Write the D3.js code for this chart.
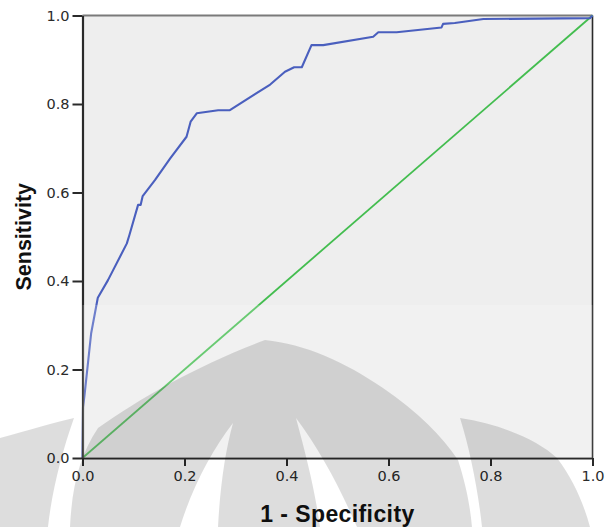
<!DOCTYPE html>
<html>
<head>
<meta charset="utf-8">
<script src="https://cdn.jsdelivr.net/npm/d3@7/dist/d3.min.js"></script>
<style>
  body { margin: 0; background: #ffffff; }
  svg { display: block; }
  .tick text { font-family: "DejaVu Sans", Verdana, sans-serif; font-size: 14.5px; fill: #2b2b2b; }
</style>
</head>
<body>
<svg id="chart" width="605" height="527"></svg>
<script>
// ROC curve: false positive rate (1 - specificity) vs. true positive rate (sensitivity)
const fpr = [0.000, 0.001, 0.004, 0.017, 0.030, 0.050, 0.087, 0.088, 0.092, 0.109, 0.114, 0.118,
             0.142, 0.172, 0.204, 0.212, 0.224, 0.266, 0.289, 0.368, 0.397, 0.415, 0.430, 0.449,
             0.472, 0.570, 0.580, 0.616, 0.704, 0.707, 0.730, 0.786, 0.995, 1.000];
const tpr = [0.000, 0.115, 0.142, 0.282, 0.362, 0.402, 0.485, 0.489, 0.504, 0.572, 0.572, 0.592,
             0.628, 0.677, 0.726, 0.760, 0.779, 0.786, 0.786, 0.844, 0.873, 0.883, 0.883, 0.933,
             0.933, 0.952, 0.962, 0.962, 0.973, 0.981, 0.983, 0.992, 0.994, 1.000];
// Reference (chance) diagonal
const refX = [0, 1];
const refY = [0, 1];

const tickValues = [0.0, 0.2, 0.4, 0.6, 0.8, 1.0];
const xTitle = "1 - Specificity";
const yTitle = "Sensitivity";

const svg = d3.select("#chart");
const plot = { left: 82.5, right: 592.5, top: 15.5, bottom: 458 };

const x = d3.scaleLinear().domain([0, 1]).range([plot.left, plot.right]);
const y = d3.scaleLinear().domain([0, 1]).range([plot.bottom, plot.top]);

// plot background
svg.append("rect")
  .attr("x", plot.left).attr("y", plot.top)
  .attr("width", plot.right - plot.left).attr("height", plot.bottom - plot.top)
  .attr("fill", "#eeeeee");

// frame: top and right edges
svg.append("line")
  .attr("x1", plot.left).attr("x2", plot.right)
  .attr("y1", plot.top).attr("y2", plot.top)
  .attr("stroke", "#7a7a7a").attr("stroke-width", 2);
svg.append("line")
  .attr("x1", plot.right).attr("x2", plot.right)
  .attr("y1", plot.top).attr("y2", plot.bottom)
  .attr("stroke", "#2a2a2a").attr("stroke-width", 1.6);

// reference diagonal
const refLine = d3.line().x(d => x(d[0])).y(d => y(d[1]));
svg.append("path")
  .datum(refX.map((v, i) => [v, refY[i]]))
  .attr("d", refLine)
  .attr("fill", "none")
  .attr("stroke", "#43bd4f")
  .attr("stroke-width", 1.8);

// ROC curve
const rocLine = d3.line().x(d => x(d[0])).y(d => y(d[1]));
svg.append("path")
  .datum(fpr.map((v, i) => [v, tpr[i]]))
  .attr("d", rocLine)
  .attr("fill", "none")
  .attr("stroke", "#4a5fbe")
  .attr("stroke-width", 2.1)
  .attr("stroke-linejoin", "round");

// axes
const fmt = d3.format(".1f");
const xAxis = svg.append("g")
  .attr("transform", `translate(0,${plot.bottom})`)
  .call(d3.axisBottom(x).tickValues(tickValues).tickFormat(fmt).tickSize(8).tickSizeOuter(0).tickPadding(5));
const yAxis = svg.append("g")
  .attr("transform", `translate(${plot.left},0)`)
  .call(d3.axisLeft(y).tickValues(tickValues).tickFormat(fmt).tickSize(10).tickSizeOuter(0).tickPadding(3));

[xAxis, yAxis].forEach(g => {
  g.select(".domain").attr("stroke", "#2a2a2a").attr("stroke-width", 2.2);
  g.selectAll(".tick line").attr("stroke", "#2a2a2a").attr("stroke-width", 2);
});

// axis titles
svg.append("text")
  .attr("x", (plot.left + plot.right) / 2)
  .attr("y", 521.5)
  .attr("text-anchor", "middle")
  .attr("font-family", "Liberation Sans, Arial, sans-serif")
  .attr("font-weight", "bold")
  .attr("font-size", 23)
  .attr("letter-spacing", 0.4)
  .attr("fill", "#111")
  .text(xTitle);
svg.append("text")
  .attr("transform", `translate(30.5,${(plot.top + plot.bottom) / 2}) rotate(-90)`)
  .attr("text-anchor", "middle")
  .attr("font-family", "Liberation Sans, Arial, sans-serif")
  .attr("font-weight", "bold")
  .attr("font-size", 21.5)
  .attr("fill", "#111")
  .text(yTitle);

// faint emblem watermark laid over the lower part of the figure
const wm = svg.append("g").attr("pointer-events", "none");
wm.append("rect")
  .attr("x", plot.left).attr("y", 305)
  .attr("width", plot.right - plot.left).attr("height", plot.bottom - 305)
  .attr("fill", "#ffffff").attr("opacity", 0.2);
const shade = "rgba(0,0,0,0.135)";
// outer left band
wm.append("path")
  .attr("d", "M0,438 C30,430 55,422 74,418 C62,452 52,490 48,527 L0,527 Z")
  .attr("fill", shade);
// central dome with two crescent gaps
wm.append("path")
  .attr("fill-rule", "evenodd")
  .attr("d",
    "M70,527 C72,485 80,455 98,428 C140,398 200,364 265,340 C305,344 345,362 383,388 " +
    "C418,412 442,436 458,460 C466,485 470,505 472,527 Z " +
    "M233,423 C212,450 192,488 180,527 L218,527 C220,488 225,452 233,423 Z " +
    "M296,418 C306,455 315,490 320,527 L357,527 C340,488 320,450 296,418 Z")
  .attr("fill", shade);
// outer right arch
wm.append("path")
  .attr("d", "M460,418 C500,424 538,440 557,458 C574,480 584,505 590,527 L482,527 C478,490 470,450 460,418 Z")
  .attr("fill", shade);
</script>
</body>
</html>
